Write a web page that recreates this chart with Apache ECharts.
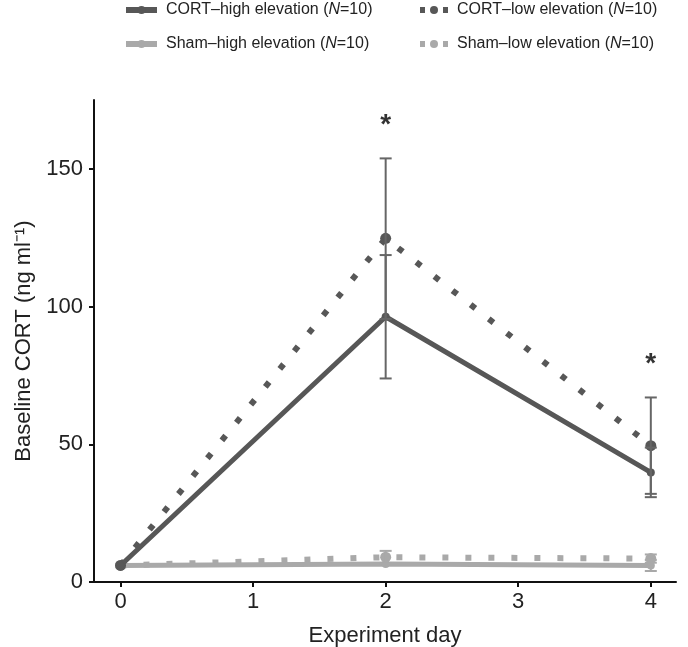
<!DOCTYPE html>
<html>
<head>
<meta charset="utf-8">
<script src="https://cdn.jsdelivr.net/npm/echarts@6/dist/echarts.min.js"></script>
<style>html,body{margin:0;padding:0;background:#fff}#c{width:688px;height:647px}</style>
</head>
<body>
<div id="c"></div>
<script>
const days = [0, 2, 4];
const xTicks = [0, 1, 2, 3, 4];
const yTicks = [0, 50, 100, 150];
const seriesNames = ['CORT–high elevation', 'CORT–low elevation', 'Sham–high elevation', 'Sham–low elevation'];
const cortHigh = [6, 96.3, 39.8];
const cortLow = [6, 124.8, 49.5];
const shamHigh = [6, 6.5, 6];
const shamLow = [6, 9, 8.5];
const cortHighErr = [[2, 73.9, 118.7], [4, 30.8, 48.8]];
const cortLowErr = [[2, 95.5, 153.8], [4, 32, 67]];
const shamHighErr = [[4, 4, 8]];
const shamLowErr = [[2, 6.8, 11.3], [4, 7, 10]];
const asterisks = [[2, 166], [4, 79]];

const pairs = v => days.map((d, i) => [d, v[i]]);
const dark = '#575757', light = '#a9a9a9';
const FONT = 'Liberation Sans, Arial, sans-serif';
const DOT = [6, 17];

function errSeries(data, color) {
  return {
    type: 'custom', data: data, z: 5, silent: true,
    renderItem: function (params, api) {
      const x = api.value(0);
      const lo = api.coord([x, api.value(1)]);
      const hi = api.coord([x, api.value(2)]);
      const w = 6;
      const st = { stroke: color, lineWidth: 2, fill: null };
      return { type: 'group', children: [
        { type: 'line', shape: { x1: lo[0], y1: lo[1], x2: hi[0], y2: hi[1] }, style: st },
        { type: 'line', shape: { x1: lo[0] - w, y1: lo[1], x2: lo[0] + w, y2: lo[1] }, style: st },
        { type: 'line', shape: { x1: hi[0] - w, y1: hi[1], x2: hi[0] + w, y2: hi[1] }, style: st }
      ]};
    }
  };
}

function legendAt(name, left, top, width, dotted) {
  return {
    data: [name], left: left, top: top, itemWidth: width, itemHeight: 10, itemGap: 0,
    padding: 0, selectedMode: false,
    lineStyle: { width: 6, type: dotted ? [5, width - 10] : 'solid', cap: 'butt' },
    formatter: n => n + ' ({i|N}=10)',
    textStyle: { fontFamily: FONT, fontSize: 16, color: '#222', padding: [0, 0, 0, 4],
      rich: { i: { fontStyle: 'italic', fontFamily: FONT, fontSize: 16, color: '#222' } } }
  };
}

const chart = echarts.init(document.getElementById('c'), null, { renderer: 'canvas' });
chart.setOption({
  animation: false,
  backgroundColor: '#fff',
  legend: [
    legendAt(seriesNames[0], 123, 2, 31, false),
    legendAt(seriesNames[1], 417, 2, 28, true),
    legendAt(seriesNames[2], 123, 36, 31, false),
    legendAt(seriesNames[3], 417, 36, 28, true)
  ],
  grid: { left: 94, right: 12, top: 100, bottom: 65, containLabel: false, outerBoundsMode: 'none' },
  xAxis: {
    type: 'value', min: -0.2, max: 4.19,
    name: 'Experiment day', nameLocation: 'middle', nameGap: 43,
    nameTextStyle: { fontFamily: FONT, fontSize: 22, color: '#222' },
    axisLine: { onZero: false, lineStyle: { color: '#111', width: 2 } },
    axisTick: { customValues: xTicks, length: 5, lineStyle: { color: '#111', width: 2 } },
    axisLabel: { customValues: xTicks, fontFamily: FONT, fontSize: 22, color: '#222', margin: 9 },
    splitLine: { show: false }
  },
  yAxis: {
    type: 'value', min: 0, max: 175,
    name: 'Baseline CORT (ng ml⁻¹)', nameLocation: 'middle', nameGap: 52,
    nameTextStyle: { fontFamily: FONT, fontSize: 22, color: '#222' },
    axisLine: { show: true, onZero: false, lineStyle: { color: '#111', width: 2 } },
    axisTick: { show: true, customValues: yTicks, length: 5, lineStyle: { color: '#111', width: 2 } },
    axisLabel: { customValues: yTicks, fontFamily: FONT, fontSize: 22, color: '#222', margin: 11 },
    splitLine: { show: false }
  },
  series: [
    { name: seriesNames[3], type: 'line', data: pairs(shamLow), color: light, z: 2,
      symbol: 'circle', symbolSize: 11, itemStyle: { color: light },
      lineStyle: { color: light, width: 6, type: DOT, cap: 'butt' } },
    { name: seriesNames[2], type: 'line', data: pairs(shamHigh), color: light, z: 2,
      symbol: 'circle', symbolSize: 8, itemStyle: { color: light },
      lineStyle: { color: light, width: 5, type: 'solid' } },
    { name: seriesNames[1], type: 'line', data: pairs(cortLow), color: dark, z: 3,
      symbol: 'circle', symbolSize: 11, itemStyle: { color: dark },
      lineStyle: { color: dark, width: 6, type: DOT, cap: 'butt' } },
    { name: seriesNames[0], type: 'line', data: pairs(cortHigh), color: dark, z: 3,
      symbol: 'circle', symbolSize: 8, itemStyle: { color: dark },
      lineStyle: { color: dark, width: 5, type: 'solid' } },
    errSeries(shamHighErr, light),
    errSeries(shamLowErr, light),
    errSeries(cortHighErr, '#666'),
    errSeries(cortLowErr, '#666'),
    { type: 'scatter', data: asterisks, symbol: 'circle', symbolSize: 1, silent: true, z: 6,
      itemStyle: { color: 'rgba(0,0,0,0)' },
      label: { show: true, position: 'inside', formatter: '*', fontFamily: FONT, fontSize: 28, fontWeight: 'bold', color: '#000' } }
  ]
});
</script>
</body>
</html>
